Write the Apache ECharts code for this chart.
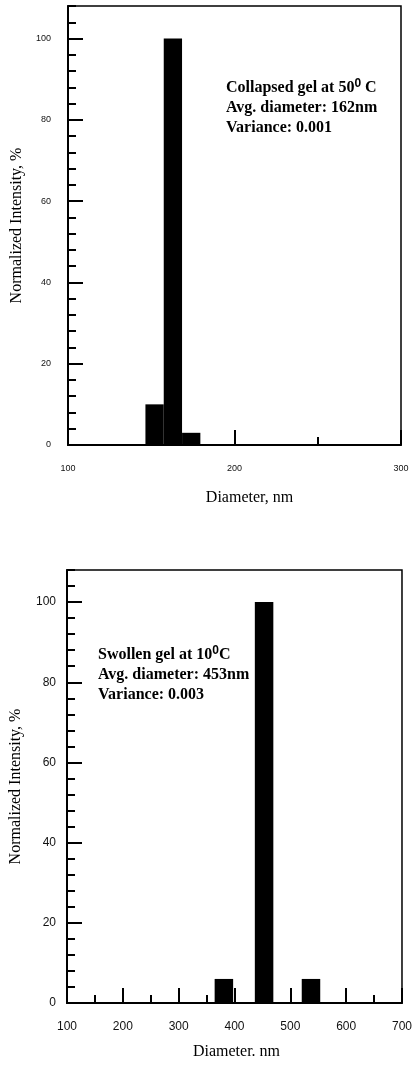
<!DOCTYPE html>
<html>
<head>
<meta charset="utf-8">
<script src="https://cdn.jsdelivr.net/npm/echarts@6/dist/echarts.min.js"></script>
<style>
  html, body { margin: 0; padding: 0; background: #fff; }
  #chart { width: 415px; height: 1080px; }
</style>
</head>
<body>
<div id="chart"></div>
<script>
// collapsed gel (50 C)
const collapsedDiameter = [152, 163, 174];
const collapsedIntensity = [10, 100, 3];
// swollen gel (10 C)
const swollenDiameter = [381, 453, 537];
const swollenIntensity = [6, 100, 6];

const serif = '"Liberation Serif", "Times New Roman", serif';
const sans = '"Liberation Sans", Arial, sans-serif';

function xAxisFor(grid, min, max, labelSize, margin, nameGap, namePad) {
  return {
    gridIndex: grid,
    type: "value",
    min: min,
    max: max,
    interval: 100,
    name: grid === 0 ? "Diameter, nm" : "Diameter. nm",
    nameLocation: "middle",
    nameGap: nameGap,
    nameTextStyle: { fontFamily: serif, fontSize: 16, color: "#000", padding: namePad },
    axisLine: { lineStyle: { color: "#000", width: 2 } },
    axisTick: { inside: true, length: 15, lineStyle: { color: "#000", width: 2 } },
    minorTick: { show: true, splitNumber: 2, length: 8, lineStyle: { color: "#000", width: 2 } },
    splitLine: { show: false },
    axisLabel: { fontFamily: sans, fontSize: labelSize, color: "#111", margin: margin },
  };
}

function yAxes(grid, labelSize, margin, nameGap) {
  return [
    {
      gridIndex: grid,
      type: "value",
      min: 0,
      max: 108,
      interval: 20,
      position: "left",
      name: "Normalized Intensity, %",
      nameLocation: "middle",
      nameGap: nameGap,
      nameTextStyle: { fontFamily: serif, fontSize: 16, color: "#000" },
      axisLine: { lineStyle: { color: "#000", width: 2 } },
      axisTick: { inside: true, length: 15, lineStyle: { color: "#000", width: 2 } },
      splitLine: { show: false },
      axisLabel: { fontFamily: sans, fontSize: labelSize, color: "#111", margin: margin, showMaxLabel: false },
    },
    {
      gridIndex: grid,
      type: "value",
      min: 0,
      max: 108,
      interval: 4,
      position: "left",
      offset: 0,
      axisLine: { show: false },
      axisTick: { inside: true, length: 8, lineStyle: { color: "#000", width: 2 } },
      splitLine: { show: false },
      axisLabel: { show: false },
    },
  ];
}

const label = (lines) => ({
  fontFamily: serif,
  fontWeight: "bold",
  fontSize: 16,
  lineHeight: 20,
  fill: "#000",
  text: lines,
  rich: {
    a: { fontFamily: serif, fontWeight: "bold", fontSize: 16, lineHeight: 20 },
    s: { fontFamily: sans, fontWeight: "bold", fontSize: 12, lineHeight: 12, verticalAlign: "top" },
  },
});

const option = {
  animation: false,
  backgroundColor: "#fff",
  grid: [
    { left: 68, right: 14, top: 6, height: 439, show: true, borderColor: "#000", borderWidth: 1.5 },
    { left: 64, right: 12, top: 570, height: 433, show: true, borderColor: "#000", borderWidth: 1.5 },
  ],
  xAxis: [
    xAxisFor(0, 100, 300, 9, 19, 45, [0, 0, 0, 30]),
    xAxisFor(1, 100, 700, 12, 18, 41, [0, 0, 0, 4]),
  ],
  yAxis: [].concat(yAxes(0, 9, 17, 43), yAxes(1, 12, 11, 43)),
  series: [
    {
      type: "bar",
      xAxisIndex: 0,
      yAxisIndex: 0,
      barWidth: 18.3,
      itemStyle: { color: "#000" },
      data: collapsedDiameter.map((d, i) => [d, collapsedIntensity[i]]),
    },
    {
      type: "bar",
      xAxisIndex: 1,
      yAxisIndex: 2,
      barWidth: 18.5,
      itemStyle: { color: "#000" },
      data: swollenDiameter.map((d, i) => [d, swollenIntensity[i]]),
    },
  ],
  graphic: [
    {
      type: "text",
      left: 226,
      top: 78,
      style: label("{a|Collapsed gel at 50}{s|0}{a| C}\n{a|Avg. diameter: 162nm}\n{a|Variance: 0.001}"),
    },
    {
      type: "text",
      left: 98,
      top: 645,
      style: label("{a|Swollen gel at 10}{s|0}{a|C}\n{a|Avg. diameter: 453nm}\n{a|Variance: 0.003}"),
    },
  ],
};

const myChart = echarts.init(document.getElementById("chart"));
myChart.setOption(option);
window.addEventListener("resize", function () {
  myChart.resize();
});
</script>
</body>
</html>
